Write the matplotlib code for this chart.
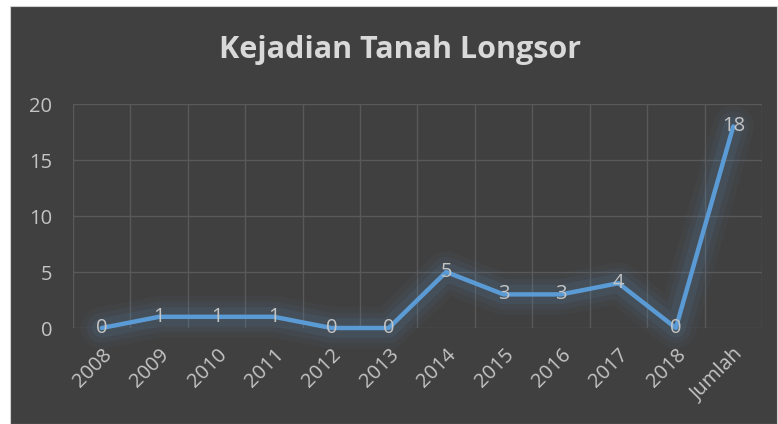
import matplotlib.pyplot as plt
import matplotlib.patheffects as pe
from matplotlib.patches import Rectangle

# data
categories = ["2008", "2009", "2010", "2011", "2012", "2013", "2014",
              "2015", "2016", "2017", "2018", "Jumlah"]
values = [0, 1, 1, 1, 0, 0, 5, 3, 3, 4, 0, 18]
yticks = [0, 5, 10, 15, 20]

BG = "#404040"
GRID = "#595959"
TXT = "#c4c4c4"
LINE = "#5b9bd5"

plt.rcParams['font.family'] = ['Open Sans', 'DejaVu Sans']

fig = plt.figure(figsize=(7.78, 4.24), dpi=100, facecolor="white")
# dark chart panel
fig.patches.append(Rectangle((10 / 778, 0), 767 / 778, 1 - 6 / 424,
                             transform=fig.transFigure, facecolor=BG,
                             edgecolor="#d0d0d0", linewidth=0.8, zorder=-10))

ax = fig.add_axes([73 / 778, 1 - 328 / 424, 689 / 778, 224 / 424])
ax.set_facecolor(BG)
ax.patch.set_alpha(0)

x = list(range(len(categories)))
ax.set_xlim(-0.5, len(categories) - 0.5)
ax.set_ylim(0, 20)

# grid at category boundaries and y ticks
for b in range(len(categories) + 1):
    ax.axvline(b - 0.5, color=GRID, lw=1, zorder=1)
for t in yticks:
    ax.axhline(t, color=GRID, lw=1, zorder=1)

glow = [pe.Stroke(linewidth=30, foreground=LINE, alpha=0.04),
        pe.Stroke(linewidth=22, foreground=LINE, alpha=0.06),
        pe.Stroke(linewidth=14, foreground=LINE, alpha=0.09),
        pe.Normal()]
ax.plot(x, values, color=LINE, lw=3.2, solid_capstyle='round',
        solid_joinstyle='round', path_effects=glow, zorder=3, clip_on=False)

for xi, v in zip(x, values):
    ax.text(xi, v, str(v), color=TXT, fontsize=14.5, ha='center', va='center',
            zorder=4)

ax.set_yticks(yticks)
ax.set_yticklabels([str(t) for t in yticks])
ax.set_xticks(x)
ax.set_xticklabels(categories, rotation=45, ha='right', rotation_mode='anchor')
ax.tick_params(axis='both', length=0, colors=TXT, labelsize=14.5)
ax.tick_params(axis='y', pad=15)
ax.tick_params(axis='x', pad=12)
for s in ax.spines.values():
    s.set_visible(False)

fig.text(400 / 778, 1 - 50 / 424, "Kejadian Tanah Longsor", color="#d9d9d9",
         fontsize=22, fontweight='bold', ha='center', va='center')

fig.savefig("out.png", dpi=100, facecolor="white")
